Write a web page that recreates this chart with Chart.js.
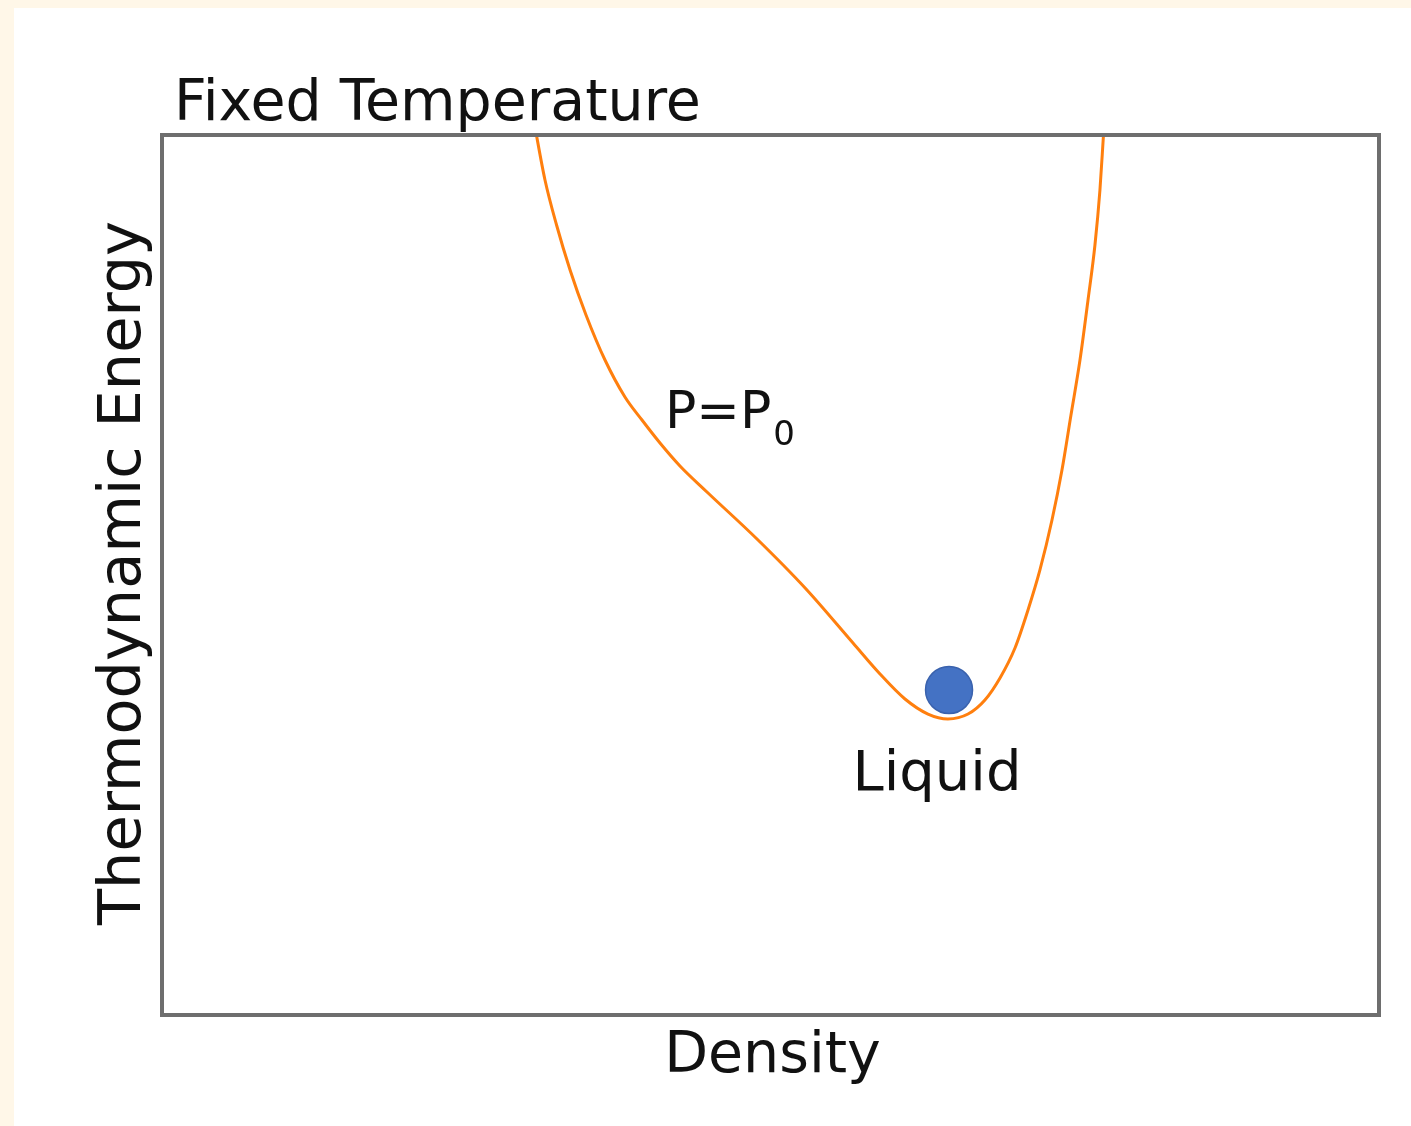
<!DOCTYPE html>
<html>
<head>
<meta charset="utf-8">
<script src="https://cdn.jsdelivr.net/npm/chart.js@4/dist/chart.umd.min.js"></script>
<style>
  html, body { margin: 0; padding: 0; background: #fff7e8; width: 1411px; height: 1126px; overflow: hidden; }
  #wrap { position: absolute; left: 14px; top: 8px; width: 1397px; height: 1118px; background: #ffffff; }
  canvas { display: block; }
</style>
</head>
<body>
<div id="wrap"><canvas id="c" width="1397" height="1118"></canvas></div>
<script>
// Data (arbitrary units)
const density = [3.057, 3.147, 3.242, 3.353, 3.484, 3.640, 3.804, 3.944, 4.092, 4.256, 4.478, 4.889, 5.292, 5.678, 5.900, 6.105, 6.294, 6.458, 6.623, 6.762, 6.886, 7.009, 7.116, 7.214, 7.313, 7.395, 7.469, 7.543, 7.609, 7.666, 7.707, 7.736, 7.745];
const energy  = [10.148, 9.489, 8.977, 8.466, 7.955, 7.443, 7.023, 6.761, 6.500, 6.239, 5.943, 5.409, 4.841, 4.227, 3.875, 3.591, 3.420, 3.364, 3.420, 3.580, 3.830, 4.170, 4.602, 5.057, 5.625, 6.193, 6.818, 7.443, 8.125, 8.750, 9.375, 10.000, 10.193];
const liquidPoint = [{ x: 6.467, y: 3.693 }];
const annotations = [
  { text: 'Liquid', x: 6.368, y: 2.557, align: 'center', size: 56 },
  { text: 'P=P', sub: '0', x: 4.133, y: 6.670, align: 'left', size: 52, subSize: 34 }
];
const titleText = 'Fixed Temperature';
const xLabel = 'Density';
const yLabel = 'Thermodynamic Energy';

const curve = density.map((d, i) => ({ x: d, y: energy[i] }));
const FONT = '"DejaVu Sans", sans-serif';

const decor = {
  id: 'decor',
  afterDraw(chart) {
    const { ctx, chartArea: a, scales } = chart;
    ctx.save();
    // frame
    ctx.strokeStyle = '#6e6e6e';
    ctx.lineWidth = 4;
    ctx.strokeRect(a.left, a.top, a.right - a.left, a.bottom - a.top);
    ctx.fillStyle = '#111111';
    // title
    ctx.font = '57px ' + FONT;
    ctx.textAlign = 'left';
    ctx.textBaseline = 'alphabetic';
    ctx.fillText(titleText, a.left + 12, a.top - 15);
    // x label
    ctx.textAlign = 'center';
    ctx.fillText(xLabel, (a.left + a.right) / 2 + 2, a.bottom + 57);
    // y label
    ctx.save();
    ctx.font = '59px ' + FONT;
    ctx.translate(a.left - 22, (a.top + a.bottom) / 2 - 2);
    ctx.rotate(-Math.PI / 2);
    ctx.textAlign = 'center';
    ctx.fillText(yLabel, 0, 0);
    ctx.restore();
    // annotations
    annotations.forEach(an => {
      const px = scales.x.getPixelForValue(an.x);
      const py = scales.y.getPixelForValue(an.y);
      ctx.font = an.size + 'px ' + FONT;
      ctx.textAlign = an.align;
      ctx.fillText(an.text, px, py);
      if (an.sub) {
        const w = ctx.measureText(an.text).width;
        const sx = an.align === 'center' ? px + w / 2 : px + w;
        ctx.font = an.subSize + 'px ' + FONT;
        ctx.textAlign = 'left';
        ctx.fillText(an.sub, sx + 2, py + 17);
      }
    });
    ctx.restore();
  }
};

new Chart(document.getElementById('c'), {
  type: 'scatter',
  data: {
    datasets: [
      {
        data: liquidPoint,
        pointRadius: 23.5,
        pointHoverRadius: 23.5,
        backgroundColor: '#4472c4',
        borderColor: '#3a62ad',
        borderWidth: 1.5,
        showLine: false
      },
      {
        data: curve,
        showLine: true,
        borderColor: '#ff7f0e',
        borderWidth: 3,
        pointRadius: 0,
        pointHoverRadius: 0,
        cubicInterpolationMode: 'monotone',
        fill: false,
        clip: 0
      }
    ]
  },
  options: {
    responsive: false,
    animation: false,
    devicePixelRatio: 1,
    layout: { padding: { left: 148, top: 127, right: 32, bottom: 111 } },
    plugins: { legend: { display: false }, tooltip: { enabled: false }, title: { display: false } },
    scales: {
      x: { type: 'linear', min: 0, max: 10, display: false },
      y: { type: 'linear', min: 0, max: 10, display: false }
    }
  },
  plugins: [decor]
});
</script>
</body>
</html>
